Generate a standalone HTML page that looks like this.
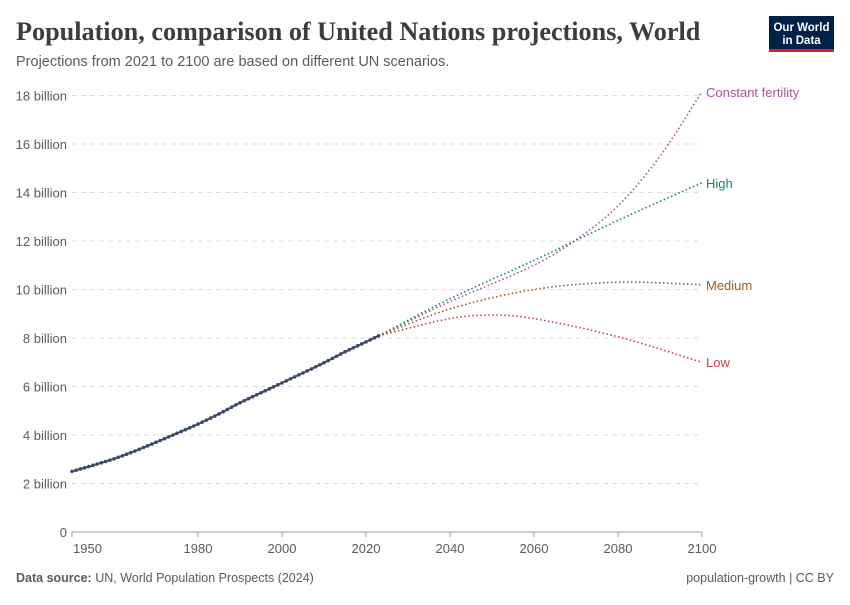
<!DOCTYPE html>
<html><head><meta charset="utf-8"><style>
body{margin:0;width:850px;height:600px;background:#fff;font-family:"Liberation Sans",sans-serif;overflow:hidden}
</style></head><body>
<svg id="s" width="850" height="600" xmlns="http://www.w3.org/2000/svg">
<text x="16" y="40" font-family="Liberation Serif,serif" font-size="26.2" font-weight="bold" fill="#3d3d3d">Population, comparison of United Nations projections, World</text>
<text x="16" y="66" font-size="14.5" fill="#5b5b5b">Projections from 2021 to 2100 are based on different UN scenarios.</text>
<rect x="769" y="16" width="65" height="33" fill="#002147"/>
<rect x="769" y="49" width="65" height="3" fill="#ce261e"/>
<text x="801.5" y="31" font-size="11.5" font-weight="bold" fill="#fff" text-anchor="middle">Our World</text>
<text x="801.5" y="44" font-size="11.5" font-weight="bold" fill="#fff" text-anchor="middle">in Data</text>
<g id="grid"></g>
<line x1="72" y1="532" x2="702" y2="532" stroke="#999"/>
<g id="d"></g>
<text x="16" y="582" font-size="12.5" fill="#5b5b5b"><tspan font-weight="bold">Data source:</tspan> UN, World Population Prospects (2024)</text>
<text x="834" y="582" font-size="12.5" fill="#5b5b5b" text-anchor="end">population-growth | CC BY</text>
</svg>
<script>
const X=y=>72+(y-1950)*4.2, Y=v=>532-v*24.25;
let g='';
for(let i=0;i<=9;i++){const y=Y(2*i);
 if(i>0)g+=`<line x1="72" y1="${y}" x2="702" y2="${y}" stroke="#ddd" stroke-dasharray="5,4"/>`;
 g+=`<text x="67" y="${y+5}" font-size="13" fill="#5b5b5b" text-anchor="end">${i?2*i+' billion':'0'}</text>`;}
for(const yr of [1950,1980,2000,2020,2040,2060,2080,2100]){
 g+=`<line x1="${X(yr)}" y1="532" x2="${X(yr)}" y2="537" stroke="#999"/><text x="${yr==1950?73:X(yr)}" y="553" font-size="13" fill="#5b5b5b" text-anchor="${yr==1950?'start':'middle'}">${yr}</text>`;}
document.getElementById('grid').innerHTML=g;
function interp(pts,yr){for(let i=0;i<pts.length-1;i++){const[a,va]=pts[i],[b,vb]=pts[i+1];if(yr>=a&&yr<=b){
 const t=(yr-a)/(b-a);const m0=i>0?(vb-pts[i-1][1])/(b-pts[i-1][0]):(vb-va)/(b-a);const m1=i<pts.length-2?(pts[i+2][1]-va)/(pts[i+2][0]-a):(vb-va)/(b-a);
 const h=b-a,t2=t*t,t3=t2*t;return(2*t3-3*t2+1)*va+(t3-2*t2+t)*h*m0+(-2*t3+3*t2)*vb+(t3-t2)*h*m1;}}return pts[pts.length-1][1];}
const hist=[[1950,2.5],[1955,2.75],[1960,3.02],[1965,3.34],[1970,3.7],[1975,4.07],[1980,4.45],[1985,4.87],[1990,5.33],[1995,5.74],[2000,6.15],[2005,6.56],[2010,6.98],[2015,7.43],[2020,7.84],[2023,8.09]];
let d='';let p='';
for(let yr=1950;yr<=2023;yr++){const x=X(yr),y=Y(interp(hist,yr));p+=(p?'L':'M')+x.toFixed(1)+','+y.toFixed(1);}
const sc=[
 ['#a2559c','Constant fertility',[[2023,8.09],[2040,9.5],[2060,11.0],[2070,12.05],[2080,13.45],[2090,15.5],[2100,18.15]]],
 ['#18806e','High',[[2023,8.09],[2040,9.62],[2060,11.2],[2080,12.85],[2100,14.4]]],
 ['#9a5d28','Medium',[[2023,8.09],[2040,9.2],[2060,10.0],[2080,10.3],[2100,10.2]]],
 ['#c8404e','Low',[[2023,8.09],[2040,8.8],[2050,8.95],[2060,8.8],[2080,8.05],[2100,7.0]]]];
const ly={'Constant fertility':97,'High':188,'Medium':290,'Low':367};
for(const[c,n,pts]of sc){let q='';for(let yr=2023;yr<=2100;yr+=0.5){q+=(q?'L':'M')+X(yr).toFixed(1)+','+Y(interp(pts,yr)).toFixed(1);}
 d+=`<path d="${q}" fill="none" stroke="${c}" stroke-width="1.6" stroke-dasharray="1.5,2.5"/>`;
 d+=`<text x="706" y="${ly[n]}" font-size="13" fill="${c}">${n}</text>`;}
d+=`<path d="${p}" fill="none" stroke="#3c4a64" stroke-width="2"/>`;
for(let yr=1950;yr<=2023;yr++)d+=`<circle cx="${X(yr)}" cy="${Y(interp(hist,yr))}" r="1.8" fill="#3c4a64"/>`;
document.getElementById('d').innerHTML=d;
</script>
</body></html>
